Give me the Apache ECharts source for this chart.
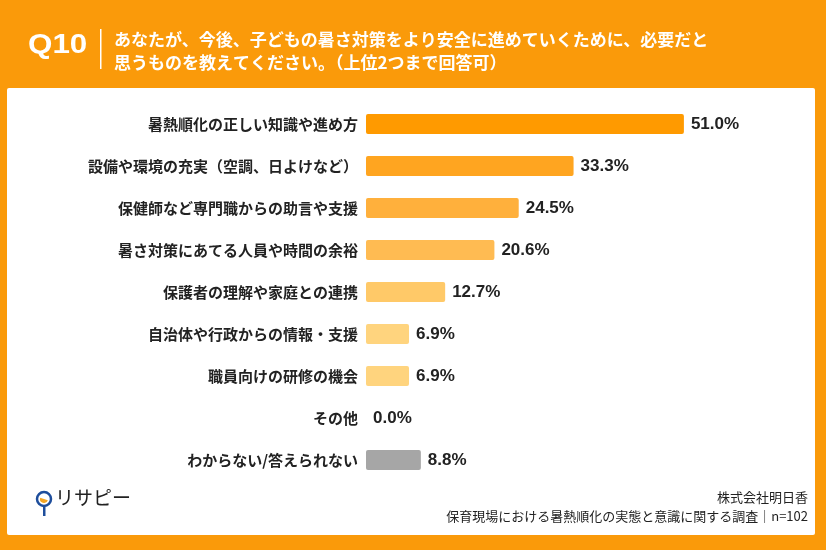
<!DOCTYPE html>
<html>
<head>
<meta charset="utf-8">
<script src="https://cdn.jsdelivr.net/npm/echarts@6/dist/echarts.min.js"></script>
<style>
  html, body { margin: 0; padding: 0; }
  #chart { width: 826px; height: 550px; }
</style>
</head>
<body>
<div id="chart"></div>
<script>
const categories = [
  "暑熱順化の正しい知識や進め方",
  "設備や環境の充実（空調、日よけなど）",
  "保健師など専門職からの助言や支援",
  "暑さ対策にあてる人員や時間の余裕",
  "保護者の理解や家庭との連携",
  "自治体や行政からの情報・支援",
  "職員向けの研修の機会",
  "その他",
  "わからない/答えられない",
];
const values = [51.0, 33.3, 24.5, 20.6, 12.7, 6.9, 6.9, 0.0, 8.8];
const barColors = [
  "#FF9A00", "#FFA520", "#FFB03C", "#FFBB52", "#FFC968",
  "#FFD47E", "#FFD47E", "#FFD47E", "#A6A6A6",
];

const JP = "'Noto Sans CJK JP', sans-serif";
const NUM = "'Liberation Sans', 'Noto Sans CJK JP', sans-serif";
const ORANGE = "#FA9A0A";

const chart = echarts.init(document.getElementById("chart"));

chart.setOption({
  backgroundColor: ORANGE,
  animation: false,
  graphic: [
    {
      type: "rect",
      shape: { x: 7, y: 88, width: 808, height: 447, r: 2 },
      style: { fill: "#fff" },
      z: -10,
    },
    {
      type: "text",
      x: 28, y: 31,
      scaleX: 1.12,
      style: { text: "Q10", fill: "#fff", font: "bold 28px " + NUM },
    },
    {
      type: "rect",
      shape: { x: 100, y: 29, width: 1.5, height: 40 },
      style: { fill: "#fff" },
    },
    {
      type: "text",
      left: 114, top: 28,
      style: {
        text: "あなたが、今後、子どもの暑さ対策をより安全に進めていくために、必要だと\n思うものを教えてください。（上位2つまで回答可）",
        fill: "#fff",
        font: "bold 17px " + JP,
        lineHeight: 23,
      },
    },
    // logo pin
    {
      type: "circle",
      shape: { cx: 44, cy: 499, r: 7 },
      style: { fill: "#fff", stroke: "#1E4E9C", lineWidth: 2.5 },
    },
    {
      type: "sector",
      shape: { cx: 44, cy: 499, r: 4, r0: 0, startAngle: Math.PI * 0.1, endAngle: Math.PI * 1.1 },
      style: { fill: "#F5A623" },
    },
    {
      type: "rect",
      shape: { x: 43, y: 507, width: 2.5, height: 9 },
      style: { fill: "#1E4E9C" },
    },
    {
      type: "text",
      left: 55, top: 488,
      style: { text: "リサピー", fill: "#222", font: "19px " + JP },
    },
    {
      type: "text",
      right: 18, top: 491,
      style: { text: "株式会社明日香", fill: "#222", font: "13px " + JP },
    },
    {
      type: "text",
      right: 18, top: 510,
      style: {
        text: "保育現場における暑熱順化の実態と意識に関する調査｜n=102",
        fill: "#222",
        font: "13px " + JP,
      },
    },
  ],
  grid: { left: 366, top: 103, width: 374, height: 378, containLabel: false },
  xAxis: {
    type: "value",
    min: 0,
    max: 60,
    show: false,
  },
  yAxis: {
    type: "category",
    data: categories,
    inverse: true,
    axisLine: { show: false },
    axisTick: { show: false },
    axisLabel: {
      margin: 8,
      color: "#222",
      fontFamily: JP,
      fontWeight: "bold",
      fontSize: 15,
    },
  },
  series: [
    {
      type: "bar",
      data: values.map((v, i) => ({ value: v, itemStyle: { color: barColors[i] } })),
      barWidth: 20,
      itemStyle: { borderRadius: 2 },
      label: {
        show: true,
        position: "right",
        distance: 7,
        color: "#222",
        fontFamily: NUM,
        fontWeight: "bold",
        fontSize: 17,
        formatter: (p) => p.value.toFixed(1) + "%",
      },
    },
  ],
});
</script>
</body>
</html>
